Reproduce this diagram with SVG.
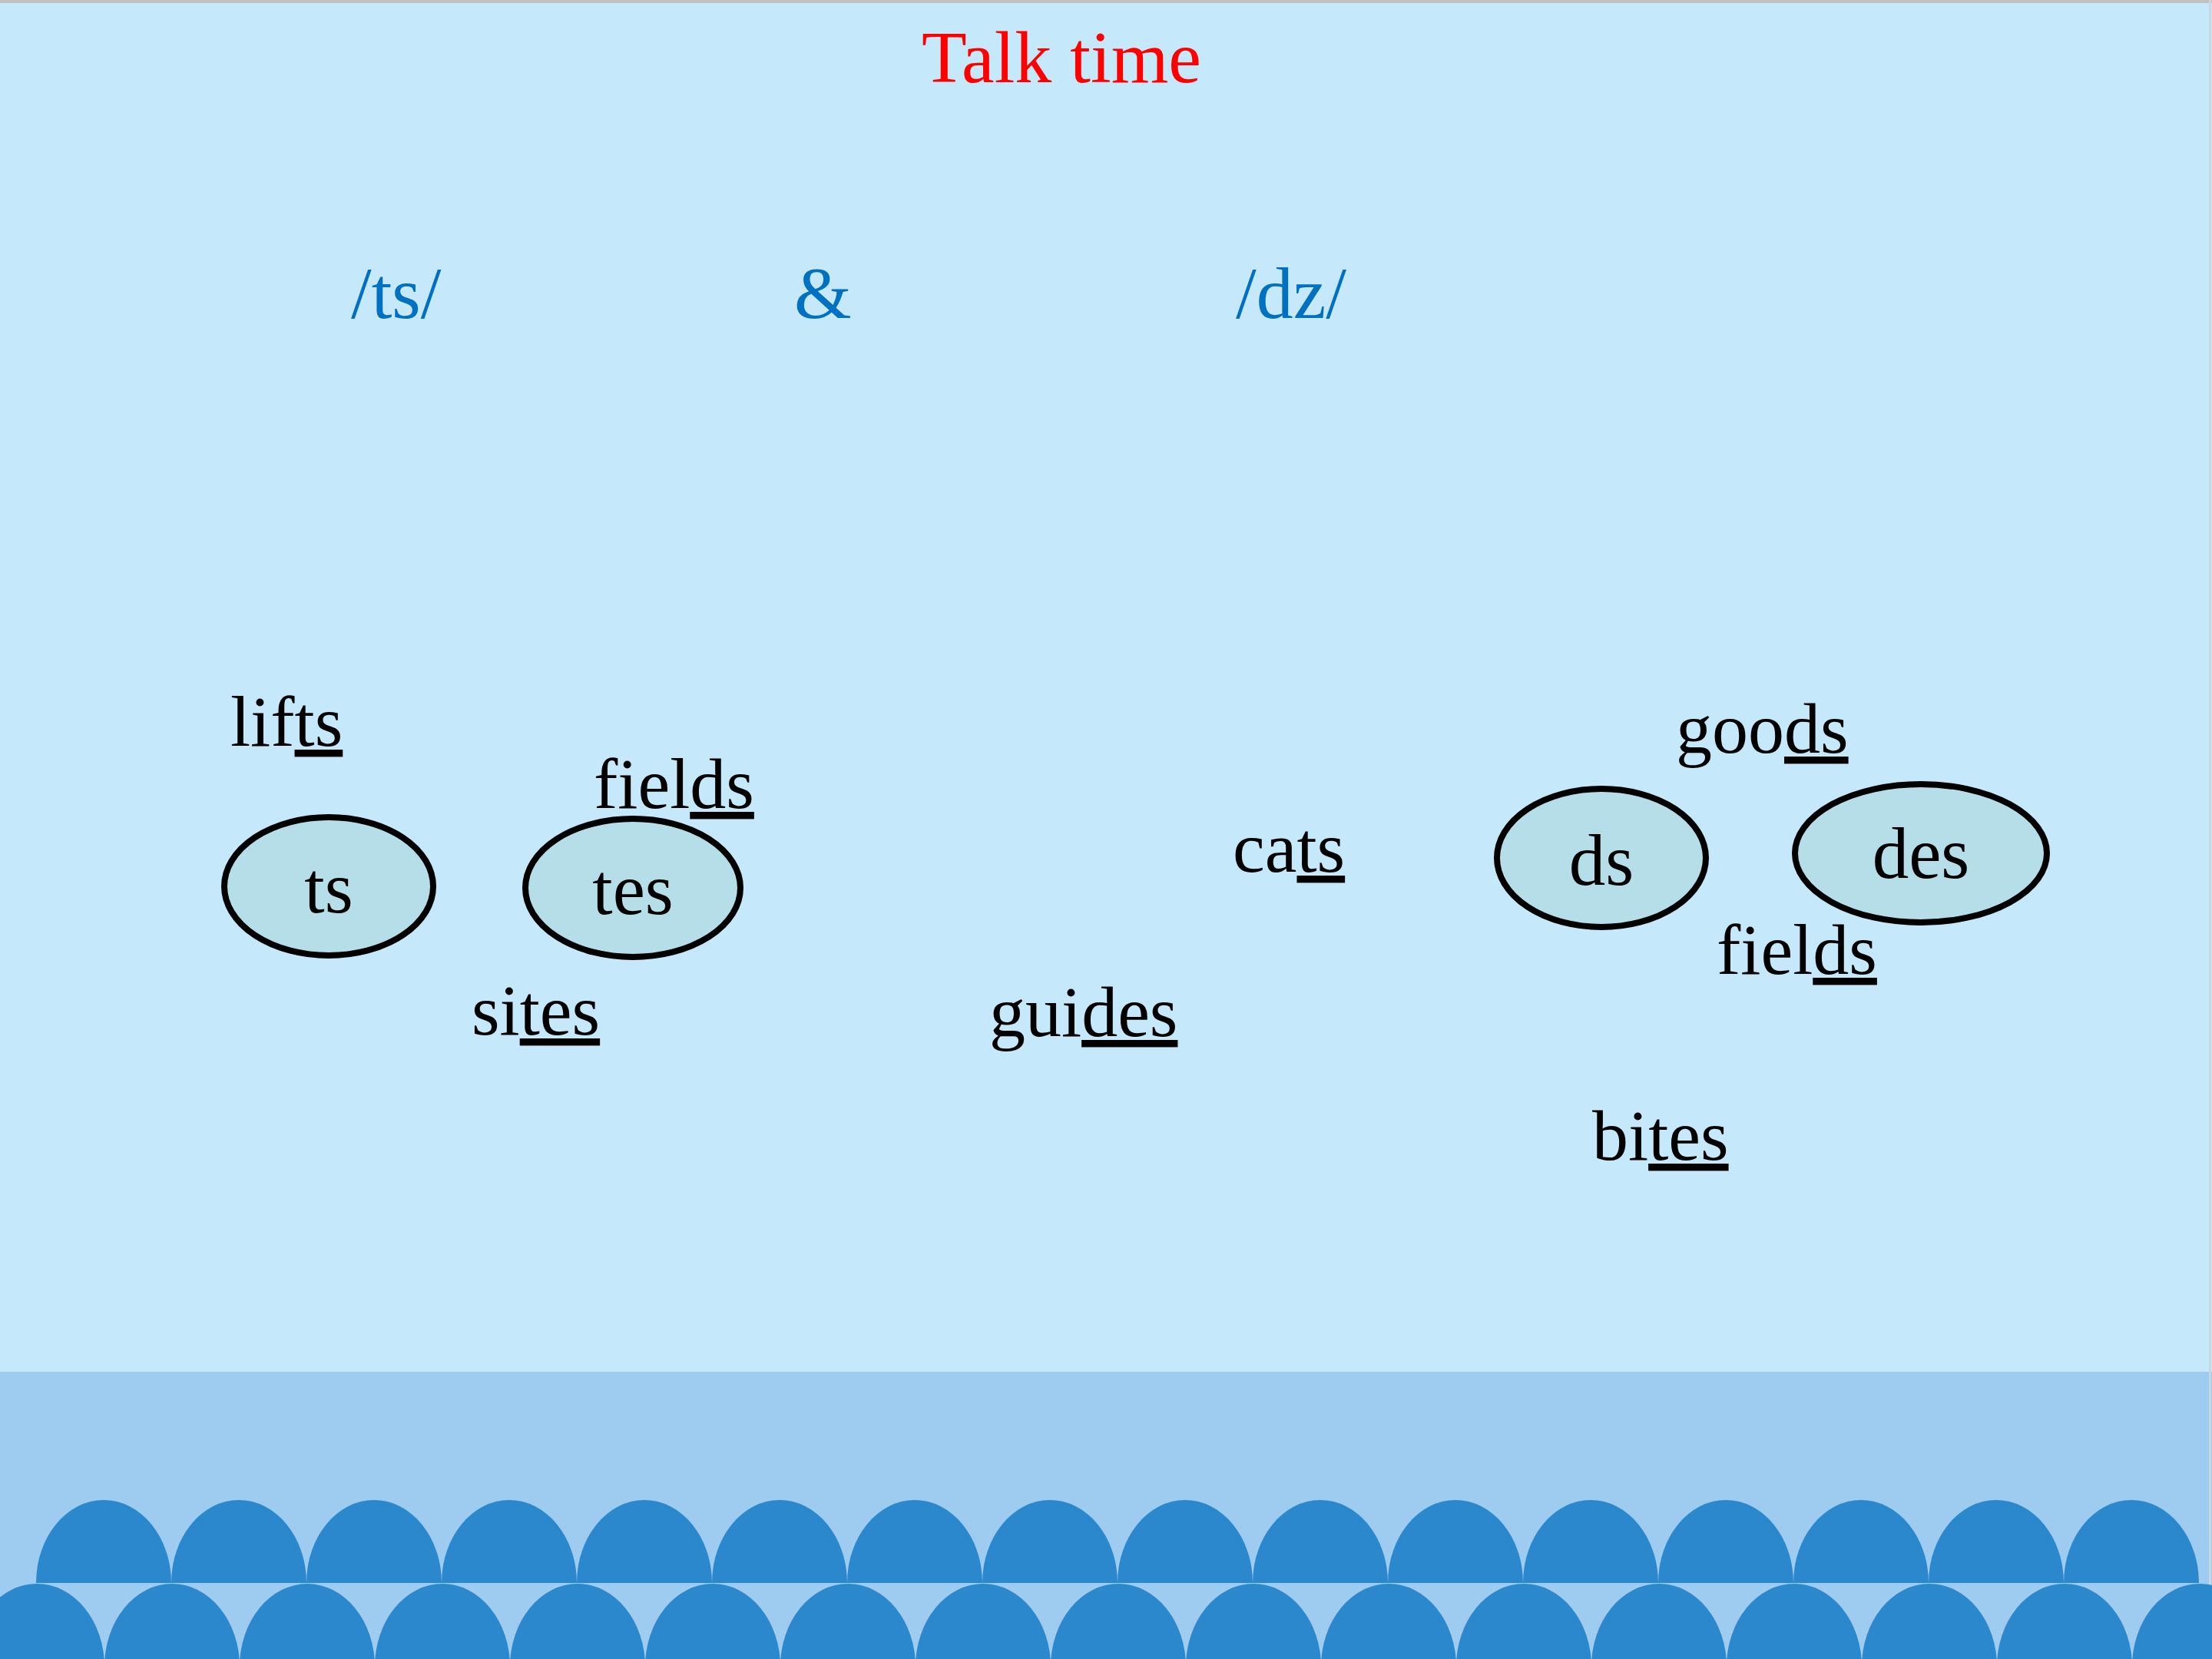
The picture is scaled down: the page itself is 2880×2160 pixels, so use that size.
<svg xmlns="http://www.w3.org/2000/svg" width="2880" height="2160" viewBox="0 0 2880 2160">
<style>
.w{font-family:"Liberation Serif","Times New Roman",serif;font-size:94px;fill:#000}
.p{font-family:"Liberation Serif","Times New Roman",serif;font-size:96px;fill:#0070C0}
.u{text-decoration:underline}
.el{fill:#B6DEE8;stroke:#000;stroke-width:8}
.ct{font-family:"Liberation Serif","Times New Roman",serif;font-size:95px;fill:#000;text-anchor:middle}
.wave{fill:#2B88CC}
</style>
<g id="background">
<rect x="0" y="0" width="2880" height="2160" fill="#C5E8FA"/>
<rect x="0" y="1786" width="2880" height="374" fill="#9ECCF0"/>
<rect x="0" y="0" width="2880" height="4" fill="#C2C2C2"/>
<rect x="2876" y="0" width="3" height="2160" fill="#C9D6DE"/>
</g>
<g id="waves">
<path class="wave" d="M47,2061 A88,108 0 0 1 223,2061 A88,108 0 0 1 399,2061 A88,108 0 0 1 575,2061 A88,108 0 0 1 751,2061 A88,108 0 0 1 927,2061 A88,108 0 0 1 1103,2061 A88,108 0 0 1 1279,2061 A88,108 0 0 1 1455,2061 A88,108 0 0 1 1631,2061 A88,108 0 0 1 1807,2061 A88,108 0 0 1 1983,2061 A88,108 0 0 1 2159,2061 A88,108 0 0 1 2335,2061 A88,108 0 0 1 2511,2061 A88,108 0 0 1 2687,2061 A88,108 0 0 1 2863,2061 Z"/>
<path class="wave" d="M-40,2170 A88,108 0 0 1 136,2170 A88,108 0 0 1 312,2170 A88,108 0 0 1 488,2170 A88,108 0 0 1 664,2170 A88,108 0 0 1 840,2170 A88,108 0 0 1 1016,2170 A88,108 0 0 1 1192,2170 A88,108 0 0 1 1368,2170 A88,108 0 0 1 1544,2170 A88,108 0 0 1 1720,2170 A88,108 0 0 1 1896,2170 A88,108 0 0 1 2072,2170 A88,108 0 0 1 2248,2170 A88,108 0 0 1 2424,2170 A88,108 0 0 1 2600,2170 A88,108 0 0 1 2776,2170 A88,108 0 0 1 2952,2170 Z"/>
</g>
<g id="title">
<text x="1382" y="107" text-anchor="middle" font-family="Liberation Serif, Times New Roman, serif" font-size="96" fill="#FF0000">Talk time</text>
</g>
<g id="headers">
<text class="p" x="457" y="414">/ts/</text>
<text class="p" x="1034" y="414">&amp;</text>
<text class="p" x="1609" y="414">/dz/</text>
</g>
<g id="node-ts">
<ellipse class="el" cx="428" cy="1154" rx="136" ry="90"/>
<text class="ct" x="428" y="1188">ts</text>
</g>
<g id="node-tes">
<ellipse class="el" cx="824" cy="1156" rx="140" ry="90"/>
<text class="ct" x="824" y="1190">tes</text>
</g>
<g id="node-ds">
<ellipse class="el" cx="2085" cy="1117" rx="136" ry="90"/>
<text class="ct" x="2085" y="1152">ds</text>
</g>
<g id="node-des">
<ellipse class="el" cx="2501" cy="1111" rx="164" ry="90"/>
<text class="ct" x="2501" y="1143">des</text>
</g>
<g id="words">
<text class="w" x="300" y="971">lif<tspan class="u">ts</tspan></text>
<text class="w" x="773" y="1052">fiel<tspan class="u">ds</tspan></text>
<text class="w" x="614" y="1347">si<tspan class="u">tes</tspan></text>
<text class="w" x="1288" y="1349">gui<tspan class="u">des</tspan></text>
<text class="w" x="1605" y="1135">ca<tspan class="u">ts</tspan></text>
<text class="w" x="2182" y="980">goo<tspan class="u">ds</tspan></text>
<text class="w" x="2235" y="1268">fiel<tspan class="u">ds</tspan></text>
<text class="w" x="2073" y="1510">bi<tspan class="u">tes</tspan></text>
</g>
<g id="connectors"></g>
</svg>
